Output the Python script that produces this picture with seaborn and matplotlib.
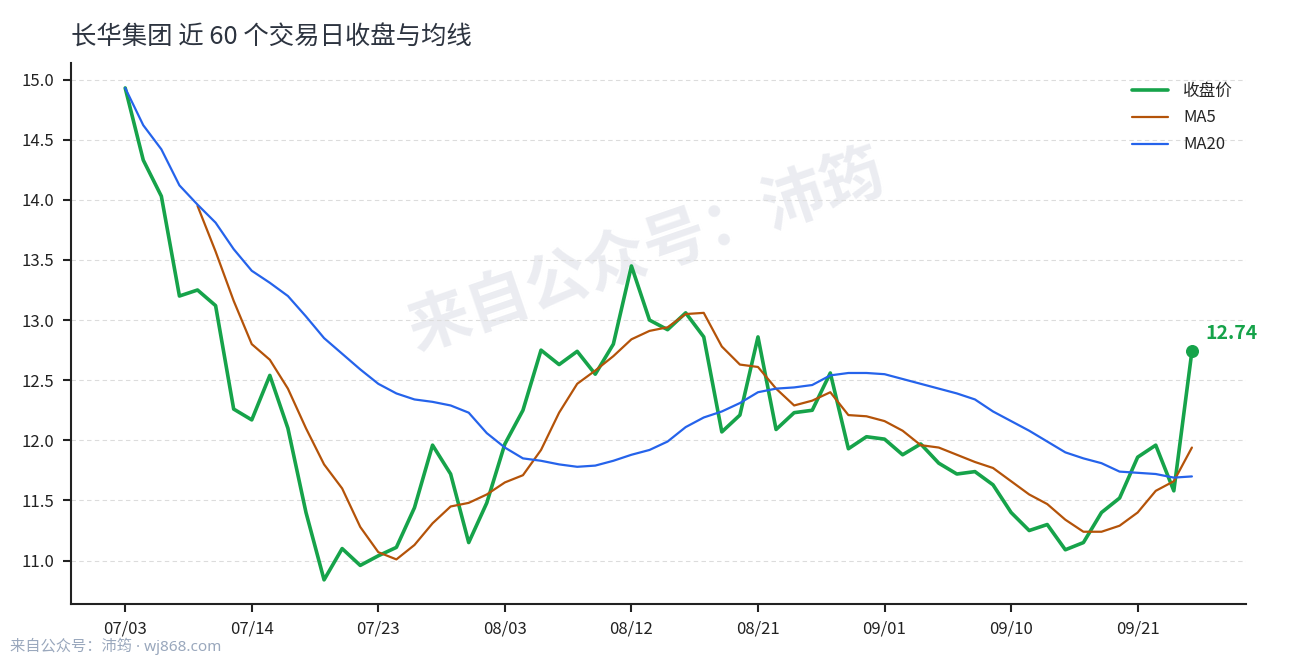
import numpy as np
import pandas as pd
import matplotlib
matplotlib.use("Agg")
import matplotlib.pyplot as plt
import seaborn as sns

title = "长华集团 近 60 个交易日收盘与均线"

close = [14.93, 14.33, 14.03, 13.20, 13.25, 13.12, 12.26, 12.17, 12.54, 12.10,
         11.40, 10.84, 11.10, 10.96, 11.04, 11.11, 11.44, 11.96, 11.72, 11.15,
         11.48, 11.97, 12.25, 12.75, 12.63, 12.74, 12.55, 12.80, 13.45, 13.00,
         12.92, 13.06, 12.86, 12.07, 12.21, 12.86, 12.09, 12.23, 12.25, 12.56,
         11.93, 12.03, 12.01, 11.88, 11.97, 11.81, 11.72, 11.74, 11.63, 11.40,
         11.25, 11.30, 11.09, 11.15, 11.40, 11.52, 11.86, 11.96, 11.58, 12.74]

ma5 = [np.nan, np.nan, np.nan, np.nan, 13.95, 13.57, 13.16, 12.80, 12.67, 12.43,
       12.10, 11.80, 11.60, 11.28, 11.07, 11.01, 11.13, 11.31, 11.45, 11.48,
       11.55, 11.65, 11.71, 11.92, 12.23, 12.47, 12.58, 12.70, 12.84, 12.91,
       12.94, 13.05, 13.06, 12.78, 12.63, 12.61, 12.43, 12.29, 12.33, 12.40,
       12.21, 12.20, 12.16, 12.08, 11.96, 11.94, 11.88, 11.82, 11.77, 11.66,
       11.55, 11.47, 11.34, 11.24, 11.24, 11.29, 11.40, 11.58, 11.66, 11.94]

ma20 = [14.93, 14.62, 14.42, 14.12, 13.96, 13.81, 13.59, 13.41, 13.31, 13.20,
        13.03, 12.85, 12.72, 12.59, 12.47, 12.39, 12.34, 12.32, 12.29, 12.23,
        12.06, 11.94, 11.85, 11.83, 11.80, 11.78, 11.79, 11.83, 11.88, 11.92,
        11.99, 12.11, 12.19, 12.24, 12.31, 12.40, 12.43, 12.44, 12.46, 12.54,
        12.56, 12.56, 12.55, 12.51, 12.47, 12.43, 12.39, 12.34, 12.24, 12.16,
        12.08, 11.99, 11.90, 11.85, 11.81, 11.74, 11.73, 11.72, 11.69, 11.70]

tick_labels = ["07/03", "07/14", "07/23", "08/03", "08/12", "08/21", "09/01", "09/10", "09/21"]
tick_step = 7

y_ticks = [11.0, 11.5, 12.0, 12.5, 13.0, 13.5, 14.0, 14.5, 15.0]

series_names = ["收盘价", "MA5", "MA20"]
colors = {"收盘价": "#16a34a", "MA5": "#b45309", "MA20": "#2563eb"}
widths = {"收盘价": 2.6, "MA5": 1.6, "MA20": 1.6}

sns.set_theme(style="white")
plt.rcParams['font.family'] = ['Noto Sans CJK SC', 'DejaVu Sans']
plt.rcParams['axes.unicode_minus'] = False

idx = np.arange(len(close))
df = pd.DataFrame({"idx": np.concatenate([idx, idx, idx]),
                   "value": np.concatenate([close, ma5, ma20]),
                   "series": np.repeat(series_names, len(close))})

fig = plt.figure(figsize=(12.9, 6.6), dpi=100)
ax = fig.add_axes([0.055, 0.085, 0.911, 0.82])

# watermark
ax.text(0.49, 0.65, "来自公众号：沛筠", transform=ax.transAxes, fontsize=45,
        fontweight="bold", color="#e6e8ee", alpha=0.8, rotation=19,
        ha="center", va="center", zorder=0)

for name in series_names:
    sub = df[df["series"] == name]
    sns.lineplot(data=sub, x="idx", y="value", ax=ax, color=colors[name],
                 linewidth=widths[name], label=name, estimator=None, sort=False)

# endpoint marker and label
last_i = idx[-1]
last_v = close[-1]
ax.scatter([last_i], [last_v], s=70, color=colors["收盘价"], zorder=5)
ax.annotate(f"{last_v:.2f}", xy=(last_i, last_v), xytext=(10, 6),
            textcoords="offset points", color=colors["收盘价"],
            fontsize=14, fontweight="bold", ha="left", va="bottom")

ax.set_xlim(-3, 62)
ax.set_ylim(10.64, 15.14)
ax.set_yticks(y_ticks)
ax.set_yticklabels([f"{v:.1f}" for v in y_ticks])
ax.set_xticks(idx[::tick_step][:len(tick_labels)])
ax.set_xticklabels(tick_labels)
ax.set_xlabel("")
ax.set_ylabel("")

ax.grid(axis="y", color="#dcdcdc", linestyle=(0, (4, 3)), linewidth=0.8)
ax.grid(axis="x", visible=False)
for s in ["top", "right"]:
    ax.spines[s].set_visible(False)
for s in ["left", "bottom"]:
    ax.spines[s].set_color("#222222")
    ax.spines[s].set_linewidth(1.5)
ax.tick_params(axis="both", which="both", direction="out", length=6, width=1.5,
               color="#222222", labelsize=12, labelcolor="#222222", pad=6,
               left=True, bottom=True)

leg = ax.legend(loc="upper right", frameon=False, fontsize=12, handlelength=2.2,
                handletextpad=0.9, borderaxespad=0.3, labelspacing=0.6,
                bbox_to_anchor=(0.999, 0.985))

ax.text(0.0, 1.046, title, transform=ax.transAxes, fontsize=18.3,
        color="#2d3440", ha="left", va="center")

fig.text(0.008, 0.02, "来自公众号：沛筠 · wj868.com", fontsize=11,
         family=['Noto Sans', 'Noto Sans CJK SC'],
         color="#9aa8bd", ha="left", va="center")

fig.savefig("out.png", dpi=100)
